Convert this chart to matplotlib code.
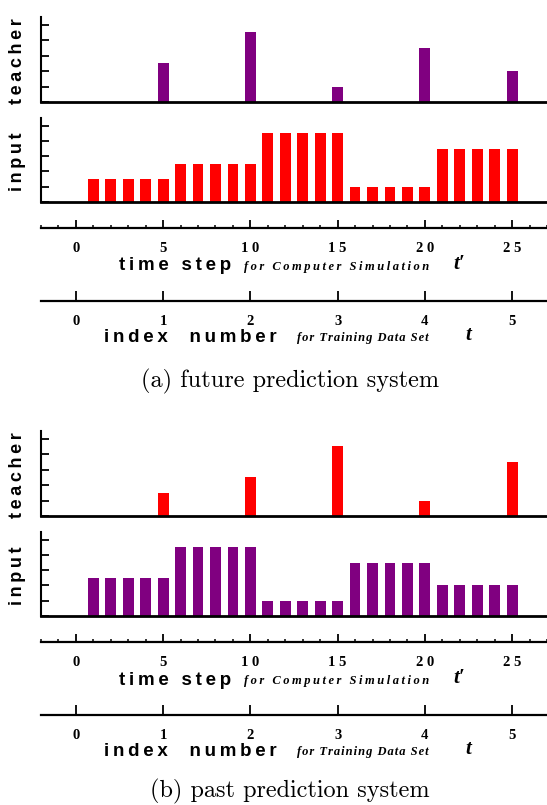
import matplotlib
matplotlib.use('Agg')
import matplotlib.pyplot as plt

# time steps t' of the input bars and of the teacher bars
input_steps = list(range(1, 26))
teacher_steps = [5, 10, 15, 20, 25]

# (a) future prediction system
input_a = [1.5, 1.5, 1.5, 1.5, 1.5, 2.5, 2.5, 2.5, 2.5, 2.5,
           4.5, 4.5, 4.5, 4.5, 4.5, 1.0, 1.0, 1.0, 1.0, 1.0,
           3.5, 3.5, 3.5, 3.5, 3.5]
teacher_a = [2.5, 4.5, 1.0, 3.5, 2.0]

# (b) past prediction system
input_b = [2.5, 2.5, 2.5, 2.5, 2.5, 4.5, 4.5, 4.5, 4.5, 4.5,
           1.0, 1.0, 1.0, 1.0, 1.0, 3.5, 3.5, 3.5, 3.5, 3.5,
           2.0, 2.0, 2.0, 2.0, 2.0]
teacher_b = [1.5, 2.5, 4.5, 1.0, 3.5]

time_ticks = [0, 5, 10, 15, 20, 25]
time_labels = ['0', '5', '1 0', '1 5', '2 0', '2 5']
index_ticks = [0, 1, 2, 3, 4, 5]
index_labels = ['0', '1', '2', '3', '4', '5']

PURPLE = '#800080'
RED = '#ff0000'
W, H = 547, 805
SANS = ['Liberation Sans', 'DejaVu Sans']
SERIF = ['Liberation Serif', 'DejaVu Serif']

fig = plt.figure(figsize=(W / 100, H / 100), dpi=100)


def box(left, top, right, bottom):
    # pixel box -> figure fraction
    return [left / W, 1 - bottom / H, (right - left) / W, (bottom - top) / H]


def spaced(s, gap='\u2009'):
    return gap.join(s)


def bar_axes(top, bottom, steps, values, color, label):
    ax = fig.add_axes(box(41, top, W, bottom))
    ax.bar(steps, values, width=0.62, color=color)
    ax.set_xlim(-2, 27)
    ax.set_ylim(0, 5.5)
    ax.set_xticks([])
    ax.set_yticks([0, 1, 2, 3, 4, 5])
    ax.set_yticklabels([])
    ax.tick_params(axis='y', direction='in', length=6, width=1.3)
    ax.spines['top'].set_visible(False)
    ax.spines['right'].set_visible(False)
    ax.spines['left'].set_linewidth(1.5)
    ax.spines['bottom'].set_linewidth(2)
    fig.text(18 / W, 1 - ((top + bottom) / 2 + 2) / H, spaced(label),
             rotation=90, ha='center', va='center', fontsize=13,
             fontweight='bold', family=SANS)
    return ax


def scale_axes(y, xlim, ticks, labels, minor=None, major_len=6, pad=10):
    ax = fig.add_axes(box(41, y - 10, W, y))
    ax.patch.set_visible(False)
    for s in ['top', 'right', 'left']:
        ax.spines[s].set_visible(False)
    ax.spines['bottom'].set_linewidth(1.6)
    ax.set_xlim(*xlim)
    ax.set_yticks([])
    ax.set_xticks(ticks)
    ax.set_xticklabels(labels, fontsize=10.5, fontweight='bold', family=SERIF)
    if minor is not None:
        ax.set_xticks(minor, minor=True)
    ax.tick_params(axis='x', which='major', direction='in', length=major_len,
                   width=1.3, pad=pad)
    ax.tick_params(axis='x', which='minor', direction='in', length=2.5,
                   width=1.1)
    return ax


def panel(dy, teacher, inputs, teacher_color, input_color, caption):
    bar_axes(17 + dy, 102 + dy, teacher_steps, teacher, teacher_color, 'teacher')
    bar_axes(118 + dy, 202 + dy, input_steps, inputs, input_color, 'input')

    scale_axes(228 + dy, (-2, 27), time_ticks, time_labels,
               minor=list(range(-2, 28)), major_len=6, pad=10)
    fig.text(119 / W, 1 - (266 + dy) / H, spaced('time step'), fontsize=13.5,
             fontweight='bold', family=SANS, va='center')
    fig.text(244 / W, 1 - (267 + dy) / H, spaced('for Computer Simulation'),
             fontsize=9, fontweight='bold', style='italic', family=SERIF,
             va='center')
    fig.text(453 / W, 1 - (264 + dy) / H, "t\u2032", fontsize=15,
             fontweight='bold', style='italic', family=SERIF, va='center')

    scale_axes(301 + dy, (-0.4, 5.4), index_ticks, index_labels, major_len=7,
               pad=10)
    fig.text(104 / W, 1 - (337 + dy) / H, spaced('index  number'),
             fontsize=13.5, fontweight='bold', family=SANS, va='center')
    fig.text(297 / W, 1 - (338 + dy) / H, spaced('for Training Data Set', '\u200a'),
             fontsize=9, fontweight='bold', style='italic', family=SERIF,
             va='center')
    fig.text(465 / W, 1 - (335 + dy) / H, 't', fontsize=15,
             fontweight='bold', style='italic', family=SERIF, va='center')

    fig.text(290 / W, 1 - (381 + dy - (4 if dy else 0)) / H, caption,
             fontsize=17.5, family=['cmr10', 'DejaVu Serif'],
             ha='center', va='center')


panel(0, teacher_a, input_a, PURPLE, RED, '(a) future prediction system')
panel(414, teacher_b, input_b, RED, PURPLE, '(b) past prediction system')

fig.savefig('out.png', dpi=100)
